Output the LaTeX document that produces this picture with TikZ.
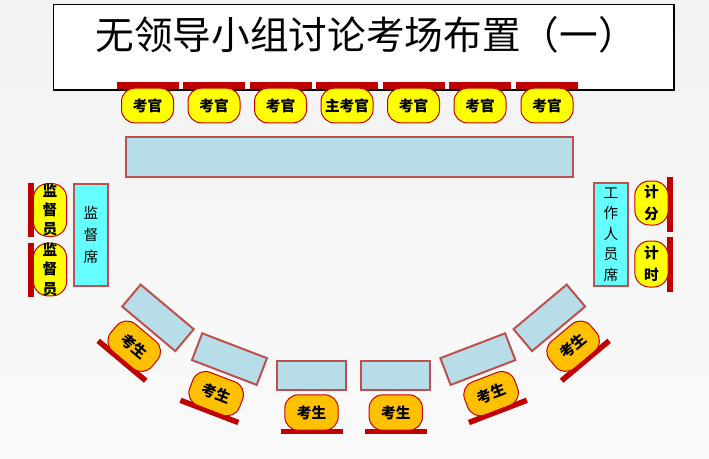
\documentclass[tikz,border=0pt]{standalone}
\usepackage{fontspec}
\setmainfont{Noto Sans CJK SC}
\usepackage{tikz}
\usetikzlibrary{calc}
\tikzset{every picture/.style={line width=0.75pt}}
\tikzset{
  titlebox/.style={draw={rgb, 255:red, 0; green, 0; blue, 0}, fill={rgb, 255:red, 255; green, 255; blue, 255}, line width=1.2pt},
  deskbox/.style={draw={rgb, 255:red, 192; green, 80; blue, 77}, fill={rgb, 255:red, 183; green, 221; blue, 232}, line width=1.5pt, inner sep=0pt},
  sidebox/.style={deskbox, fill={rgb, 255:red, 102; green, 255; blue, 255}, align=center, font=\fontsize{11}{16.5}\selectfont},
  redbar/.style={fill={rgb, 255:red, 192; green, 0; blue, 0}, inner sep=0pt},
  chairy/.style={draw={rgb, 255:red, 204; green, 0; blue, 0}, fill={rgb, 255:red, 255; green, 255; blue, 0}, rounded corners=10pt, inner sep=0pt, font=\fontsize{11}{14}\selectfont\bfseries},
  chairo/.style={chairy, fill={rgb, 255:red, 255; green, 192; blue, 0}},
  topchair/.style={chairy, minimum width=39pt, minimum height=26pt},
  topbar/.style={redbar, minimum width=46.5pt, minimum height=4.9pt},
  sidechair/.style={chairy, rounded corners=11pt, minimum width=25pt, minimum height=34.5pt, align=center},
  sidebar/.style={redbar, minimum width=4.5pt, minimum height=41pt},
  stuchair/.style={chairo, minimum width=40pt, minimum height=26.5pt},
  stulabel/.style={inner sep=0pt, font=\fontsize{11}{14}\selectfont\bfseries},
  studesk/.style={deskbox, minimum width=52pt, minimum height=21.5pt},
  stubar/.style={redbar, minimum width=46.5pt, minimum height=4.1pt},
}

\begin{document}
\begin{tikzpicture}[x=0.75pt,y=0.75pt,yscale=-1,xscale=1]
%set diagram left start at 0, and has height of 458
\fill[top color={rgb, 255:red, 242; green, 242; blue, 242}, bottom color={rgb, 255:red, 250; green, 250; blue, 250}] (0,0) rectangle (709,458);
\path[use as bounding box] (0,0) rectangle (709,458);

%Shape: Rectangle [id:title]
\draw[titlebox] (53.5,4.5) -- (674,4.5) -- (674,90) -- (53.5,90) -- cycle ;
% Text Node
\node[inner sep=0pt, font=\fontsize{29}{32}\selectfont] (title) at (366,35) {无领导小组讨论考场布置（一）};

%Shape: Rectangle [id:topbars]
\node[topbar] (tb1) at (147.5,85.7) {};
\node[topbar] (tb2) at (214,85.7) {};
\node[topbar] (tb3) at (280.5,85.7) {};
\node[topbar] (tb4) at (347,85.7) {};
\node[topbar] (tb5) at (413.5,85.7) {};
\node[topbar] (tb6) at (480,85.7) {};
\node[topbar] (tb7) at (547,85.7) {};
% Text Node
\node[topchair] (ex1) at (147.5,105.5) {考官};
\node[topchair] (ex2) at (214,105.5) {考官};
\node[topchair] (ex3) at (280.5,105.5) {考官};
\node[topchair] (ex4) at (347,105.5) {主考官};
\node[topchair] (ex5) at (413.5,105.5) {考官};
\node[topchair] (ex6) at (480,105.5) {考官};
\node[topchair] (ex7) at (547,105.5) {考官};

%Shape: Rectangle [id:maintable]
\node[deskbox, minimum width=335pt, minimum height=30pt] (table) at (349.5,157) {};

%Shape: Rectangle [id:leftside]
\node[sidebar] (lb1) at (31,210) {};
\node[sidebar] (lb2) at (31,270) {};
\node[sidechair, font=\fontsize{11}{14.5}\selectfont\bfseries] (sup1) at (50,210) {监\\督\\员};
\node[sidechair, font=\fontsize{11}{14.5}\selectfont\bfseries] (sup2) at (50,269.5) {监\\督\\员};
\node[sidebox, minimum width=25pt, minimum height=77pt] (supdesk) at (91,235) {监\\督\\席};

%Shape: Rectangle [id:rightside]
\node[sidebox, minimum width=25pt, minimum height=77pt, font=\fontsize{11}{15.4}\selectfont] (staffdesk) at (611,234.5) {工\\作\\人\\员\\席};
\node[sidebar] (rb1) at (670,204.5) {};
\node[sidebar] (rb2) at (670,264.5) {};
\node[sidechair, minimum height=33pt, font=\fontsize{11}{16.5}\selectfont\bfseries] (score) at (651.5,203) {计\\分};
\node[sidechair, minimum height=34.5pt, font=\fontsize{11}{16.5}\selectfont\bfseries] (timer) at (651.5,264) {计\\时};

%Shape: Rectangle [id:studesks]
\node[studesk, rotate=-40] (desk1) at (157.95,317.85) {};
\node[studesk, rotate=-21] (desk2) at (229.45,359.1) {};
\node[studesk] (desk3) at (311.5,375.5) {};
\node[studesk] (desk4) at (395.8,375.5) {};
\node[studesk, rotate=21] (desk5) at (477.85,359.1) {};
\node[studesk, rotate=40] (desk6) at (549.35,317.85) {};
%Shape: Rectangle [id:stubars]
\node[stubar, rotate=-40] (sb1) at (121.95,360.75) {};
\node[stubar, rotate=-21] (sb2) at (209.4,411.4) {};
\node[stubar] (sb3) at (311.5,431.5) {};
\node[stubar] (sb4) at (395.8,431.5) {};
\node[stubar, rotate=21] (sb5) at (497.9,411.4) {};
\node[stubar, rotate=40] (sb6) at (585.35,360.75) {};
%Shape: Rounded Rectangle [id:stuchairs]
\node[stuchair, rotate=-40] (stu1) at (134.2,346.2) {};
\node[stuchair, rotate=-21] (stu2) at (216.2,393.6) {};
\node[stuchair] (stu3) at (311.5,412.5) {};
\node[stuchair] (stu4) at (395.8,412.5) {};
\node[stuchair, rotate=21] (stu5) at (491.1,393.6) {};
\node[stuchair, rotate=40] (stu6) at (573.1,346.2) {};
% Text Node
\node[stulabel, rotate=-40] (lab1) at (stu1) {考生};
\node[stulabel, rotate=-21] (lab2) at (stu2) {考生};
\node[stulabel] (lab3) at (stu3) {考生};
\node[stulabel] (lab4) at (stu4) {考生};
\node[stulabel, rotate=21] (lab5) at (stu5) {考生};
\node[stulabel, rotate=40] (lab6) at (stu6) {考生};

\end{tikzpicture}
\end{document}
